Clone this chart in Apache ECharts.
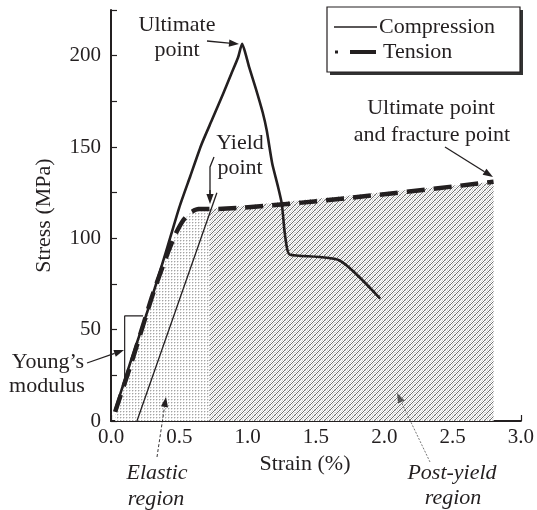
<!DOCTYPE html>
<html>
<head>
<meta charset="utf-8">
<script src="https://cdn.jsdelivr.net/npm/echarts@6/dist/echarts.min.js"></script>
<style>
  html, body { margin: 0; padding: 0; background: #fff; }
  #chart { width: 537px; height: 510px; }
</style>
</head>
<body>
<div id="chart"></div>
<script>
// Stress–strain data (strain in %, stress in MPa)
const compressionStrain = [0.03, 0.15, 0.28, 0.40, 0.50, 0.58, 0.66, 0.74, 0.82, 0.88, 0.93, 0.96, 0.985, 1.01, 1.06, 1.11, 1.14, 1.18, 1.22, 1.25, 1.27, 1.29, 1.31, 1.67, 1.97];
const compressionStress = [6, 34, 63, 92, 117, 134, 151, 165, 179, 190, 199, 206.5, 201, 194, 182, 169, 159, 141, 129, 119, 104, 94, 91, 88, 67];

const tensionStrain = [0.03, 0.15, 0.30, 0.40, 0.47, 0.53, 0.58, 0.64, 0.72, 2.80];
const tensionStress = [5, 32, 68, 89, 102, 110, 114, 116, 116, 131];

// 0.2% offset line used to locate the yield point
const offsetStrain = [0.19, 0.775];
const offsetStress = [0, 125];

// Boundary between elastic and post-yield regions (strain %)
const yieldStrain = 0.72;

// Slope triangle for Young's modulus: top-right, corner, bottom
const youngStrain = [0.235, 0.10, 0.10];
const youngStress = [57.5, 57.5, 21];

const xTicks = [0, 0.5, 1.0, 1.5, 2.0, 2.5, 3.0];
const yTickLabels = [0, 50, 100, 150, 200];

const FONT = '"Liberation Serif", "Times New Roman", serif';
const INK = '#231f20';
const FS_TICK = 21;
const FS = 22;

const zip = (xs, ys) => xs.map((x, i) => [x, ys[i]]);
const tension = zip(tensionStrain, tensionStress);
const elasticArea = tension.filter(p => p[0] <= yieldStrain);
const plasticArea = tension.filter(p => p[0] >= yieldStrain);

function tile(size, paint) {
  const c = document.createElement('canvas');
  c.width = c.height = size;
  paint(c.getContext('2d'));
  return c;
}
// fine dot grid for the elastic region
const dotTile = tile(3, ctx => {
  ctx.fillStyle = '#ffffff'; ctx.fillRect(0, 0, 3, 3);
  ctx.fillStyle = '#a4a4a4'; ctx.fillRect(0, 0, 1, 1);
  ctx.fillStyle = '#dcdcdc'; ctx.fillRect(0, 1, 1, 1); ctx.fillRect(1, 0, 1, 1);
});
// diagonal hatch over stipple for the post-yield region
const hatchTile = tile(5, ctx => {
  ctx.fillStyle = '#ffffff'; ctx.fillRect(0, 0, 5, 5);
  for (let y = 0; y < 5; y++) for (let x = 0; x < 5; x++) {
    if ((x + y) % 2 === 0) { ctx.fillStyle = '#d4d4d4'; ctx.fillRect(x, y, 1, 1); }
  }
  ctx.fillStyle = '#707070';
  for (let i = 0; i < 5; i++) ctx.fillRect(i, 4 - i, 1, 1);
});

const chart = echarts.init(document.getElementById('chart'), null, { renderer: 'canvas' });

const option = {
  animation: false,
  backgroundColor: '#fff',
  grid: { left: 111, right: 14, top: 10, bottom: 89, containLabel: false },
  xAxis: {
    type: 'value', min: 0, max: 3, interval: 0.5,
    name: 'Strain (%)', nameLocation: 'middle', nameGap: 32,
    nameTextStyle: { fontFamily: FONT, fontSize: FS, color: INK, padding: [0, 22, 0, 0] },
    axisLine: { lineStyle: { color: INK, width: 2 } },
    axisTick: { inside: true, length: 6, lineStyle: { color: INK, width: 1.2 } },
    minorTick: { show: true, splitNumber: 2, length: 4, lineStyle: { color: INK, width: 1.2 } },
    splitLine: { show: false },
    axisLabel: {
      fontFamily: FONT, fontSize: FS_TICK, color: INK, margin: 6,
      formatter: v => xTicks.some(t => Math.abs(t - v) < 1e-9) ? v.toFixed(1) : ''
    }
  },
  yAxis: {
    type: 'value', min: 0, max: 225, interval: 25,
    name: 'Stress (MPa)', nameLocation: 'middle', nameGap: 56,
    nameTextStyle: { fontFamily: FONT, fontSize: FS, color: INK },
    axisLine: { lineStyle: { color: INK, width: 2 } },
    axisTick: { inside: true, length: 6, lineStyle: { color: INK, width: 1.2 } },
    splitLine: { show: false },
    axisLabel: {
      fontFamily: FONT, fontSize: FS_TICK, color: INK, margin: 10,
      formatter: v => yTickLabels.includes(v) ? String(v) : ''
    }
  },
  series: [
    {
      name: 'Elastic region', type: 'line', data: elasticArea, symbol: 'none', silent: true,
      lineStyle: { width: 0 }, areaStyle: { color: { image: dotTile, repeat: 'repeat' }, opacity: 1 }, z: 1
    },
    {
      name: 'Post-yield region', type: 'line', data: plasticArea, symbol: 'none', silent: true,
      lineStyle: { width: 0 }, areaStyle: { color: { image: hatchTile, repeat: 'repeat' }, opacity: 1 }, z: 1
    },
    {
      name: 'Offset', type: 'line', data: zip(offsetStrain, offsetStress), symbol: 'none',
      lineStyle: { color: INK, width: 1.3 }, z: 3
    },
    {
      name: 'Compression', type: 'line', data: zip(compressionStrain, compressionStress), symbol: 'none',
      smooth: 0.2,
      lineStyle: { color: INK, width: 2.6, join: 'round' }, z: 4
    },
    {
      name: 'Tension', type: 'line', data: tension, symbol: 'none', smooth: 0.2,
      lineStyle: { color: INK, width: 4.5, type: [18, 9], cap: 'butt' }, z: 5
    },
    {
      name: 'Young', type: 'line', data: zip(youngStrain, youngStress), symbol: 'none',
      lineStyle: { color: INK, width: 1.2 }, z: 3
    }
  ]
};
chart.setOption(option);

// annotation helpers
function arrow(x1, y1, x2, y2, o = {}) {
  const head = o.head || 10, half = o.half || 3.6;
  const ang = Math.atan2(y2 - y1, x2 - x1);
  const bx = x2 - head * Math.cos(ang), by = y2 - head * Math.sin(ang);
  const px = -Math.sin(ang) * half, py = Math.cos(ang) * half;
  return [
    { type: 'line', shape: { x1, y1, x2: bx, y2: by },
      style: { stroke: o.color || INK, lineWidth: o.width || 1.3, lineDash: o.dash || null }, z: 20 },
    { type: 'polygon', shape: { points: [[x2, y2], [bx + px, by + py], [bx - px, by - py]] },
      style: { fill: o.color || INK }, z: 20 }
  ];
}
function label(text, x, y, italic) {
  return { type: 'text', x, y, z: 20,
    style: { text, fontFamily: FONT, fontSize: FS, fontStyle: italic ? 'italic' : 'normal',
      fill: INK, align: 'center', verticalAlign: 'middle' } };
}

const graphics = [];
// Ultimate point (compression)
graphics.push(label('Ultimate', 177, 25), label('point', 177, 50));
graphics.push(...arrow(207, 41, 239, 44));
// Yield point
graphics.push(label('Yield', 240, 143), label('point', 240, 168));
graphics.push({ type: 'polyline', shape: { points: [[214, 157], [210, 167], [210, 195]] },
  style: { stroke: INK, lineWidth: 1.3, fill: null }, z: 20 });
graphics.push(...arrow(210, 190, 210, 204));
// Ultimate and fracture point (tension)
graphics.push(label('Ultimate point', 431, 108), label('and fracture point', 432, 135));
graphics.push(...arrow(445, 147, 493, 177));
// Young's modulus
graphics.push(label('Young\u2019s', 48, 362), label('modulus', 47, 386));
graphics.push(...arrow(87, 363, 124, 350, { width: 1.2 }));
// Elastic region
graphics.push(label('Elastic', 157, 473, true), label('region', 156, 499, true));
graphics.push(...arrow(157, 457, 166, 397, { width: 0.9, dash: [3, 2] }));
// Post-yield region
graphics.push(label('Post-yield', 452, 473, true), label('region', 453, 498, true));
graphics.push(...arrow(430, 462, 397, 393, { width: 0.8, dash: [2, 1.5], color: '#555' }));

// Legend box with drop shadow
graphics.push({ type: 'rect', shape: { x: 330, y: 10, width: 193, height: 65 }, style: { fill: '#333' }, z: 18 });
graphics.push({ type: 'rect', shape: { x: 327, y: 7, width: 193, height: 65 },
  style: { fill: '#fff', stroke: INK, lineWidth: 1.2 }, z: 19 });
graphics.push({ type: 'line', shape: { x1: 334, y1: 27, x2: 377, y2: 27 }, style: { stroke: INK, lineWidth: 1.6 }, z: 20 });
graphics.push({ type: 'rect', shape: { x: 335, y: 50.5, width: 3, height: 3 }, style: { fill: INK }, z: 20 });
graphics.push({ type: 'line', shape: { x1: 350, y1: 52, x2: 376, y2: 52 }, style: { stroke: INK, lineWidth: 4 }, z: 20 });
graphics.push({ type: 'text', x: 379, y: 27, z: 20, style: { text: 'Compression', fontFamily: FONT, fontSize: FS, fill: INK, align: 'left', verticalAlign: 'middle' } });
graphics.push({ type: 'text', x: 383, y: 52, z: 20, style: { text: 'Tension', fontFamily: FONT, fontSize: FS, fill: INK, align: 'left', verticalAlign: 'middle' } });

chart.setOption({ graphic: graphics });
</script>
</body>
</html>
